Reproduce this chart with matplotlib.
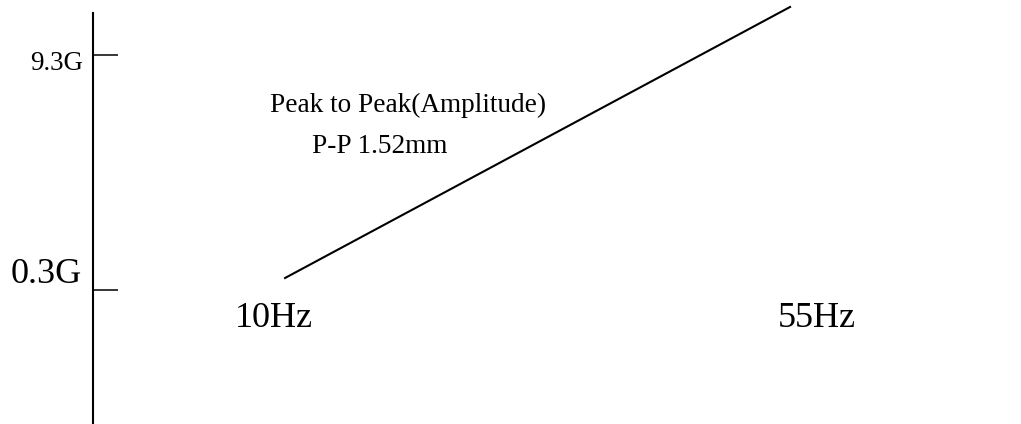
import matplotlib.pyplot as plt

plt.rcParams['font.family'] = ['Liberation Serif', 'DejaVu Serif']

# sweep endpoints (schematic) and axis labels
freq_hz = [10, 55]
freq_labels = ['10Hz', '55Hz']
accel_ticks = [0.3, 9.3]
accel_labels = ['0.3G', '9.3G']
sweep_hz = [10, 55]
sweep_g = [0.76, 11.14]
note_lines = ['Peak to Peak(Amplitude)', 'P-P 1.52mm']

W, H = 1021, 424
fig = plt.figure(figsize=(W / 100, H / 100), dpi=100)
ax = fig.add_axes([0, 0, 1, 1])
ax.set_xlim(-15.40, 75.58)
ax.set_ylim(-4.832, 11.407)

ax.plot(sweep_hz, sweep_g, color='black', lw=1.5, clip_on=False)

# left axis as a single vertical line with inward ticks
for s in ['top', 'right', 'bottom']:
    ax.spines[s].set_visible(False)
ax.spines['left'].set_position(('data', -7.11))
ax.spines['left'].set_bounds(-4.832, 10.91)
ax.spines['left'].set_linewidth(1.5)
ax.set_xticks([])
ax.set_yticks(accel_ticks)
ax.tick_params(axis='y', direction='in', length=18, width=1.1, labelleft=False)


def px(x, y):
    return x / W, 1 - y / H


# tick labels (different sizes as in the original)
fig.text(*px(82, 283), accel_labels[0], ha='right', va='baseline', fontsize=26)
fig.text(*px(83, 70), accel_labels[1], ha='right', va='baseline', fontsize=19.4)

# frequency labels
fig.text(*px(274, 327), freq_labels[0], ha='center', va='baseline', fontsize=26)
fig.text(*px(817, 327), freq_labels[1], ha='center', va='baseline', fontsize=26)

# note
fig.text(*px(270, 112), note_lines[0], ha='left', va='baseline', fontsize=19.6)
fig.text(*px(312, 153), note_lines[1], ha='left', va='baseline', fontsize=19.6)

fig.savefig('out.png', dpi=100, facecolor='white')
